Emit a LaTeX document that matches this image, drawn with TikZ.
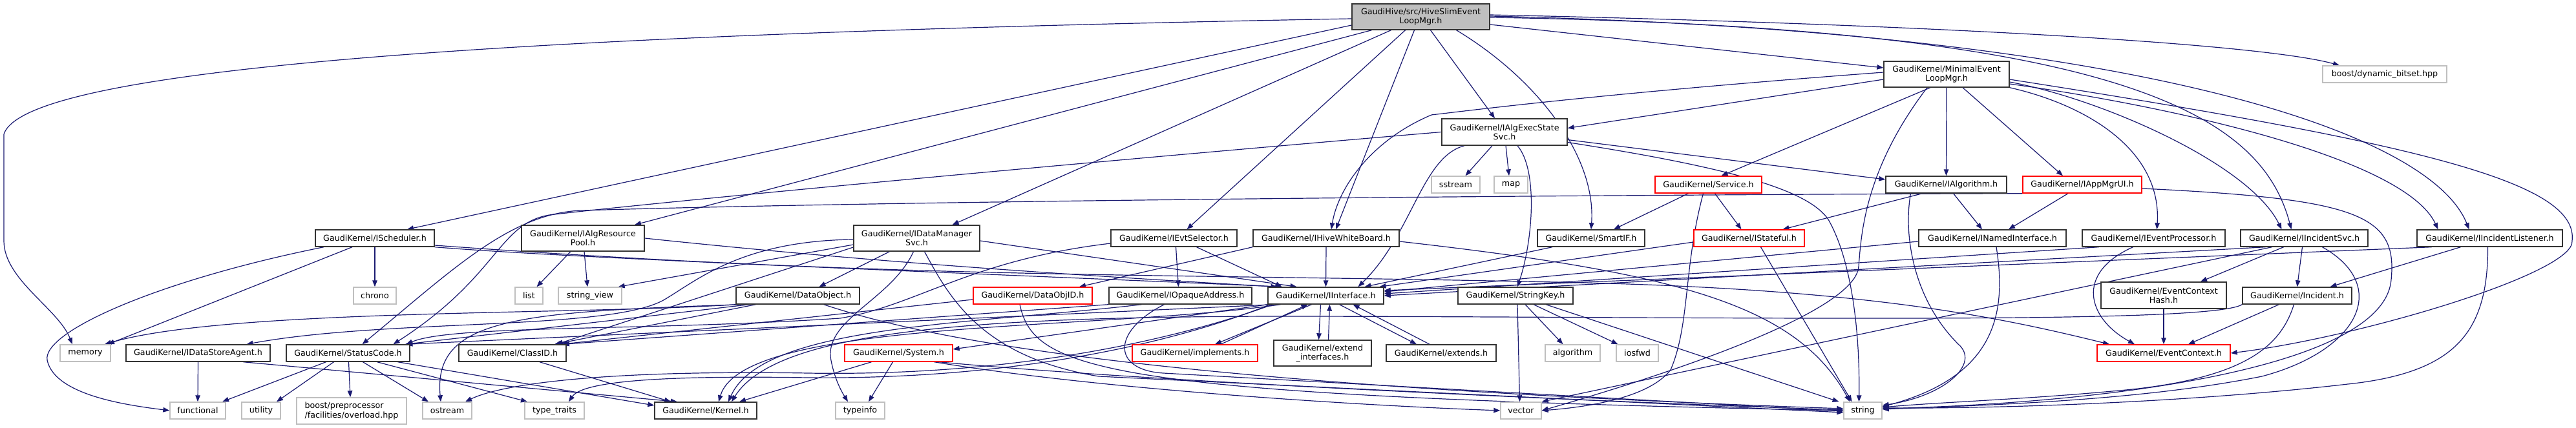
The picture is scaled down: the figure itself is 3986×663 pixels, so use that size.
\documentclass[tikz,border=0pt]{standalone}
\usepackage{fontspec}
\setmainfont{DejaVu Sans}
\usetikzlibrary{arrows.meta,backgrounds}
\definecolor{edgeblue}{HTML}{191970}
\definecolor{extgray}{HTML}{BFBFBF}
\definecolor{truncred}{HTML}{FF0000}
\definecolor{nodeborder}{HTML}{333333}
\newcommand{\nfont}{\fontsize{12.7}{14.4}\selectfont}
\tikzset{
  hdr/.style={draw=nodeborder, line width=1.4pt, fill=white, inner sep=0pt, minimum height=26pt, font=\nfont, align=center},
  sysh/.style={hdr, draw=extgray},
  trunc/.style={hdr, draw=truncred},
  rooth/.style={hdr, fill=extgray, draw=nodeborder},
  dep/.style={draw=edgeblue, line width=1.2pt, -{Triangle[length=10pt,width=7.5pt]}},
}
\begin{document}
\begin{tikzpicture}[x=1pt,y=1pt]
\useasboundingbox (0,0) rectangle (3986,663);
% level 0/1
\node[rooth, minimum width=213pt, minimum height=40pt] (R) at (2198.5,637) {GaudiHive/src/HiveSlimEvent\\LoopMgr.h};
\node[hdr, minimum width=194pt, minimum height=40pt] (MEL) at (3012,548) {GaudiKernel/MinimalEvent\\LoopMgr.h};
\node[sysh, minimum width=192pt] (BDB) at (3690,548) {boost/dynamic\_bitset.hpp};
\node[hdr, minimum width=194pt, minimum height=41pt] (IAES) at (2328,458.5) {GaudiKernel/IAlgExecState\\Svc.h};
% level 2
\node[sysh, minimum width=75pt] (SST) at (2252.5,377) {sstream};
\node[sysh, minimum width=52pt] (MAP) at (2338,377) {map};
\node[trunc, minimum width=165pt] (SVC) at (2643.5,377) {GaudiKernel/Service.h};
\node[hdr, minimum width=187pt] (IALG) at (3011.5,377) {GaudiKernel/IAlgorithm.h};
\node[trunc, minimum width=184pt] (IAPP) at (3222,377) {GaudiKernel/IAppMgrUI.h};
% level 3
\node[hdr, minimum width=184pt] (ISCH) at (580,294) {GaudiKernel/IScheduler.h};
\node[hdr, minimum width=190pt, minimum height=40pt] (IARP) at (902,294) {GaudiKernel/IAlgResource\\Pool.h};
\node[hdr, minimum width=195pt, minimum height=40pt] (IDMS) at (1418.5,294) {GaudiKernel/IDataManager\\Svc.h};
\node[hdr, minimum width=195pt] (IEVS) at (1816.5,294) {GaudiKernel/IEvtSelector.h};
\node[hdr, minimum width=226pt] (IHWB) at (2052,294) {GaudiKernel/IHiveWhiteBoard.h};
\node[hdr, minimum width=166pt] (SIF) at (2462,294) {GaudiKernel/SmartIF.h};
\node[trunc, minimum width=171pt] (ISTF) at (2706.5,294) {GaudiKernel/IStateful.h};
\node[hdr, minimum width=228pt] (INI) at (3083,294) {GaudiKernel/INamedInterface.h};
\node[hdr, minimum width=221pt] (IEP) at (3332.5,294) {GaudiKernel/IEventProcessor.h};
\node[hdr, minimum width=197pt] (IIS) at (3565.5,294) {GaudiKernel/IIncidentSvc.h};
\node[hdr, minimum width=225pt] (IIL) at (3852.5,294) {GaudiKernel/IIncidentListener.h};
% level 4
\node[sysh, minimum width=66pt] (CHR) at (580,205) {chrono};
\node[sysh, minimum width=43pt] (LST) at (818.5,205) {list};
\node[sysh, minimum width=98pt] (SV) at (913,205) {string\_view};
\node[hdr, minimum width=191pt] (DOB) at (1234.5,205) {GaudiKernel/DataObject.h};
\node[trunc, minimum width=184pt] (DOID) at (1598,205) {GaudiKernel/DataObjID.h};
\node[hdr, minimum width=221pt] (IOA) at (1826.5,205) {GaudiKernel/IOpaqueAddress.h};
\node[hdr, minimum width=179pt] (II) at (2051.5,205) {GaudiKernel/IInterface.h};
\node[hdr, minimum width=178pt] (SK) at (2345,205) {GaudiKernel/StringKey.h};
\node[hdr, minimum width=194pt, minimum height=41pt] (ECH) at (3348,205.5) {GaudiKernel/EventContext\\Hash.h};
\node[hdr, minimum width=169pt] (INC) at (3554.5,205) {GaudiKernel/Incident.h};
% level 5
\node[sysh, minimum width=78pt] (MEM) at (132,116) {memory};
\node[hdr, minimum width=223pt] (IDSA) at (306.5,116) {GaudiKernel/IDataStoreAgent.h};
\node[hdr, minimum width=191pt] (SC) at (538.5,116) {GaudiKernel/StatusCode.h};
\node[hdr, minimum width=166pt] (CID) at (793,116) {GaudiKernel/ClassID.h};
\node[trunc, minimum width=167pt] (SYS) at (1390.5,116) {GaudiKernel/System.h};
\node[trunc, minimum width=194pt] (IMP) at (1849,116) {GaudiKernel/implements.h};
\node[hdr, minimum width=151pt, minimum height=40pt] (EXT) at (2046.5,116) {GaudiKernel/extend\\\_interfaces.h};
\node[hdr, minimum width=170pt] (EXTS) at (2230,116) {GaudiKernel/extends.h};
\node[sysh, minimum width=85pt] (ALG) at (2433.5,116) {algorithm};
\node[sysh, minimum width=65pt] (IOS) at (2533.5,116) {iosfwd};
\node[trunc, minimum width=206pt] (EC) at (3348,116) {GaudiKernel/EventContext.h};
% level 6
\node[sysh, minimum width=86pt] (FUN) at (306,27) {functional};
\node[sysh, minimum width=60pt] (UTL) at (404,27) {utility};
\node[sysh, minimum width=170pt, minimum height=41pt, align=left] (BPP) at (544,26.5) {boost/preprocessor\\/facilities/overload.hpp};
\node[sysh, minimum width=76pt] (OST) at (692,27) {ostream};
\node[sysh, minimum width=92pt] (TT) at (858,27) {type\_traits};
\node[hdr, minimum width=158pt] (KER) at (1092,27) {GaudiKernel/Kernel.h};
\node[sysh, minimum width=76pt] (TI) at (1331,27) {typeinfo};
\node[sysh, minimum width=63pt] (VEC) at (2353.5,27) {vector};
\node[sysh, minimum width=59pt] (STR) at (2882.5,27) {string};

\begin{scope}[on background layer]
% root
\draw[dep] ([yshift=-3pt]R.west) .. controls (900,612) and (40,565) .. (6,455) -- (6,290) .. controls (6,230) and (90,185) .. ([xshift=-20pt]MEM.north);
\draw[dep] ([yshift=-13pt]R.west) -- ([xshift=50pt]ISCH.north);
\draw[dep] ([xshift=-76pt]R.south) -- ([xshift=80pt]IARP.north);
\draw[dep] ([xshift=-46pt]R.south) -- ([xshift=55pt]IDMS.north);
\draw[dep] ([xshift=-24pt]R.south) -- ([xshift=20pt]IEVS.north);
\draw[dep] ([xshift=-10pt]R.south) -- ([xshift=15pt]IHWB.north);
\draw[dep] ([xshift=15pt]R.south) -- ([xshift=-15pt]IAES.north);
\draw[dep] ([xshift=55pt]R.south) .. controls (2380,540) and (2470,420) .. (SIF.north);
\draw[dep] ([yshift=-12pt]R.east) -- ([yshift=10pt]MEL.west);
\draw[dep] ([yshift=3pt]R.east) .. controls (3000,625) and (3500,595) .. ([xshift=-70pt]BDB.north);
\draw[dep] ([yshift=1pt]R.east) .. controls (3300,615) and (3760,460) .. ([xshift=-32pt]IIL.north);
\draw[dep] ([yshift=-1pt]R.east) .. controls (3300,620) and (3500,480) .. ([xshift=-20pt]IIS.north);
% MinimalEventLoopMgr
\draw[dep] ([yshift=-8pt]MEL.west) -- ([yshift=6pt]IAES.east);
\draw[dep] ([yshift=3pt]MEL.west) .. controls (2500,520) and (2300,495) .. (2215,485) .. controls (2120,445) and (2070,370) .. ([xshift=8pt]IHWB.north);
\draw[dep] ([xshift=-25pt]MEL.south) -- ([xshift=20pt]SVC.north);
\draw[dep] (MEL.south) -- (IALG.north);
\draw[dep] ([xshift=25pt]MEL.south) -- ([xshift=-30pt]IAPP.north);
\draw[dep] (MEL.south east) .. controls (3230,500) and (3345,430) .. ([xshift=5pt]IEP.north);
\draw[dep] ([yshift=-12pt]MEL.east) .. controls (3250,510) and (3480,410) .. ([xshift=-35pt]IIS.north);
\draw[dep] ([yshift=-15pt]MEL.east) .. controls (3350,500) and (3720,420) .. ([xshift=-80pt]IIL.north);
\draw[dep] ([yshift=-8pt]MEL.east) .. controls (3750,440) and (3990,380) .. (3980,290) .. controls (3985,240) and (3650,140) .. (EC.east);
\draw[dep] ([xshift=-30pt]MEL.south) .. controls (2885,400) and (2880,300) .. (2876,250) .. controls (2870,170) and (2500,60) .. (VEC.east);
% IAlgExecStateSvc
\draw[dep] ([xshift=-19pt]IAES.south) -- ([xshift=15pt]SST.north);
\draw[dep] ([xshift=2pt]IAES.south) -- ([xshift=-3pt]MAP.north);
\draw[dep] ([xshift=20pt]IAES.south) .. controls (2380,400) and (2372,290) .. ([xshift=3pt]SK.north);
\draw[dep] ([xshift=-62pt]IAES.south) .. controls (2200,420) and (2185,300) .. ([xshift=50pt]II.north);
\draw[dep] ([yshift=-12pt]IAES.east) -- ([yshift=8pt]IALG.west);
\draw[dep] ([yshift=-16pt]IAES.east) .. controls (2700,400) and (2800,365) .. (2829,323) .. controls (2865,260) and (2878,150) .. ([xshift=-6pt]STR.north);
\draw[dep] (IAES.west) .. controls (1600,405) and (1000,348) .. (850,330) .. controls (770,316) and (772,235) .. ([xshift=70pt]SC.north);
% Service
\draw[dep] ([xshift=-31pt]SVC.south) -- ([xshift=35pt]SIF.north);
\draw[dep] ([xshift=-8pt]SVC.south) .. controls (2605,250) and (2615,160) .. (2585,90) .. controls (2550,45) and (2450,32) .. (VEC.east);
\draw[dep] ([xshift=10pt]SVC.south) -- ([xshift=-12pt]ISTF.north);
% IAlgorithm
\draw[dep] ([xshift=-37pt]IALG.south) -- ([xshift=52pt]ISTF.north);
\draw[dep] ([xshift=11pt]IALG.south) -- ([xshift=-16pt]INI.north);
\draw[dep] ([xshift=-55pt]IALG.south) .. controls (2945,300) and (2960,200) .. (3030,130) .. controls (3065,100) and (3010,50) .. ([yshift=8pt]STR.east);
% IAppMgrUI
\draw[dep] ([xshift=-22pt]IAPP.south) -- ([xshift=25pt]INI.north);
\draw[dep] ([yshift=-6pt]IAPP.east) .. controls (3650,355) and (3710,330) .. (3700,230) .. controls (3690,100) and (3300,40) .. ([yshift=3pt]STR.east);
\draw[dep] (IAPP.south west) .. controls (2400,361) and (1400,352) .. (900,337) .. controls (790,333) and (700,245) .. ([xshift=22pt]SC.north);
% IScheduler
\draw[dep] (ISCH.south) -- (CHR.north);
\draw[dep] ([xshift=-35pt]ISCH.south) -- ([xshift=35pt]MEM.north);
\draw[dep] ([xshift=-79pt]ISCH.south) .. controls (250,230) and (65,150) .. (73,105) .. controls (85,50) and (200,35) .. (FUN.west);
\draw[dep] (ISCH.south east) .. controls (900,262) and (1500,240) .. ([xshift=-68pt]II.north);
\draw[dep] ([yshift=-11pt]ISCH.east) .. controls (1400,230) and (1800,240) .. (2450,225) .. controls (2900,214) and (3100,170) .. ([xshift=-84pt]EC.north);
% IAlgResourcePool
\draw[dep] ([xshift=-19pt]IARP.south) -- ([xshift=12pt]LST.north);
\draw[dep] ([xshift=2pt]IARP.south) -- ([xshift=-4pt]SV.north);
\draw[dep] (IARP.east) .. controls (1300,262) and (1600,240) .. ([xshift=-75pt]II.north);
% IDataManagerSvc
\draw[dep] ([xshift=-42pt]IDMS.south) -- ([xshift=33pt]DOB.north);
\draw[dep] ([yshift=-10pt]IDMS.west) -- ([xshift=-6pt]SV.north east);
\draw[dep] ([yshift=-4pt]IDMS.east) -- ([xshift=-45pt]II.north);
\draw[dep] ([yshift=-14pt]IDMS.west) -- ([xshift=68pt]CID.north);
\draw[dep] ([yshift=-2pt]IDMS.west) .. controls (1150,290) and (1080,230) .. (1030,200) .. controls (950,150) and (600,170) .. ([xshift=75pt]IDSA.north);
\draw[dep] ([xshift=-5pt]IDMS.south) .. controls (1380,200) and (1280,170) .. (1285,110) .. controls (1290,80) and (1300,60) .. ([xshift=-19pt]TI.north);
\draw[dep] ([xshift=12pt]IDMS.south) .. controls (1470,200) and (1520,110) .. (1700,80) -- ([yshift=-3pt]STR.west);
% IEvtSelector
\draw[dep] ([xshift=3pt]IEVS.south) -- ([xshift=-3pt]IOA.north);
\draw[dep] ([xshift=35pt]IEVS.south) -- ([xshift=-68pt]II.north);
\draw[dep] ([yshift=-8pt]IEVS.west) .. controls (1500,260) and (1420,190) .. (1300,170) .. controls (1000,150) and (700,160) .. ([xshift=90pt]SC.north);
% IHiveWhiteBoard
\draw[dep] (IHWB.south) -- (II.north);
\draw[dep] (IHWB.south west) -- ([xshift=72pt]DOID.north);
\draw[dep] ([yshift=-5pt]IHWB.east) .. controls (2600,240) and (2780,190) .. ([xshift=-20pt]STR.north);
% SmartIF, IStateful, INamedInterface, IEventProcessor
\draw[dep] ([xshift=-60pt]SIF.south) -- ([xshift=60pt]II.north);
\draw[dep] ([yshift=-6pt]ISTF.west) -- ([xshift=83pt]II.north);
\draw[dep] ([xshift=18pt]ISTF.south) -- ([xshift=-17pt]STR.north);
\draw[dep] ([yshift=-5pt]INI.west) -- ([yshift=6pt]II.east);
\draw[dep] ([xshift=6pt]INI.south) .. controls (3105,180) and (3090,80) .. ([yshift=6pt]STR.east);
\draw[dep] ([xshift=-85pt]IEP.south) -- ([yshift=3pt]II.east);
\draw[dep] ([xshift=-32pt]IEP.south) .. controls (3210,240) and (3230,170) .. ([xshift=-45pt]EC.north);
% IIncidentSvc
\draw[dep] ([xshift=-60pt]IIS.south) -- (II.east);
\draw[dep] ([xshift=-50pt]IIS.south) -- (VEC.north east);
\draw[dep] ([xshift=-32pt]IIS.south) -- ([xshift=57pt]ECH.north);
\draw[dep] ([xshift=-3pt]IIS.south) -- (INC.north);
\draw[dep] ([xshift=28pt]IIS.south) .. controls (3700,220) and (3650,120) .. (3500,80) .. controls (3300,40) and (3050,35) .. ([yshift=2pt]STR.east);
% IIncidentListener
\draw[dep] ([xshift=-90pt]IIL.south) -- ([yshift=8pt]II.east);
\draw[dep] ([xshift=-45pt]IIL.south) -- ([xshift=51pt]INC.north);
\draw[dep] ([xshift=-3pt]IIL.south) .. controls (3850,150) and (3800,90) .. (3650,70) .. controls (3400,40) and (3100,30) .. ([yshift=4pt]STR.east);
% DataObject
\draw[dep] ([xshift=-65pt]DOB.south) -- ([xshift=65pt]CID.north);
\draw[dep] ([xshift=-75pt]DOB.south) -- ([xshift=88pt]SC.north);
\draw[dep] (DOB.south west) .. controls (900,175) and (350,185) .. ([xshift=30pt]MEM.north);
\draw[dep] ([xshift=-85pt]DOB.south) .. controls (800,180) and (670,170) .. ([xshift=-10pt]OST.north);
\draw[dep] ([xshift=40pt]DOB.south) .. controls (1400,150) and (1700,70) .. ([yshift=3pt]STR.west);
% DataObjID
\draw[dep] ([yshift=-6pt]DOID.west) -- ([xshift=75pt]CID.north);
\draw[dep] ([xshift=-20pt]DOID.south) .. controls (1600,90) and (1700,50) .. (STR.west);
% IOpaqueAddress
\draw[dep] (IOA.south west) -- ([xshift=78pt]CID.north);
\draw[dep] ([xshift=-25pt]IOA.south) .. controls (1720,150) and (1720,90) .. (1800,85) -- ([yshift=-1pt]STR.west);
\draw[dep] ([xshift=-60pt]IOA.south) .. controls (1500,160) and (1180,160) .. ([xshift=35pt]KER.north);
% IInterface
\draw[dep] ([xshift=-70pt]II.south) .. controls (1700,150) and (1150,170) .. ([xshift=20pt]KER.north);
\draw[dep] ([xshift=-80pt]II.south) -- ([xshift=90pt]SC.north);
\draw[dep] (II.south west) -- ([yshift=6pt]SYS.east);
\draw[dep] ([xshift=-82pt]II.south) .. controls (1800,130) and (1550,80) .. (1250,85) .. controls (950,90) and (780,70) .. ([xshift=28pt]OST.north);
\draw[dep] ([xshift=-86pt]II.south) .. controls (1800,125) and (1550,75) .. (1250,78) .. controls (1000,82) and (900,70) .. ([xshift=22pt]TT.north);
\draw[dep] ([xshift=-22pt]II.south) -- ([xshift=31pt]IMP.north);
\draw[dep] ([xshift=40pt]IMP.north) -- ([xshift=-28pt]II.south);
\draw[dep] ([xshift=-8pt]II.south) -- ([xshift=-6pt]EXT.north);
\draw[dep] ([xshift=9pt]EXT.north) -- ([xshift=6pt]II.south);
\draw[dep] ([xshift=21pt]II.south) -- ([xshift=-38pt]EXTS.north);
\draw[dep] ([xshift=-18pt]EXTS.north) -- ([xshift=42pt]II.south);
% StringKey
\draw[dep] ([xshift=3pt]SK.south) -- ([xshift=-2pt]VEC.north);
\draw[dep] ([xshift=15pt]SK.south) -- ([xshift=-15pt]ALG.north);
\draw[dep] ([xshift=28pt]SK.south) -- ([xshift=-30pt]IOS.north);
\draw[dep] ([xshift=47pt]SK.south) -- ([xshift=-37pt]STR.north);
% System
\draw[dep] ([xshift=-42pt]SYS.south) -- ([xshift=52pt]KER.north);
\draw[dep] ([xshift=-9pt]SYS.south) -- ([xshift=13pt]TI.north);
\draw[dep] ([xshift=55pt]SYS.south) .. controls (1700,60) and (2100,35) .. (VEC.west);
\draw[dep] ([xshift=62pt]SYS.south) .. controls (1800,70) and (2500,40) .. ([yshift=1pt]STR.west);
% IDataStoreAgent, StatusCode, ClassID
\draw[dep] (IDSA.south) -- (FUN.north);
\draw[dep] ([xshift=70pt]IDSA.south) -- ([xshift=-44pt]KER.north);
\draw[dep] ([xshift=-34pt]SC.south) -- ([xshift=38pt]FUN.north);
\draw[dep] ([xshift=-22pt]SC.south) -- ([xshift=24pt]UTL.north);
\draw[dep] ([xshift=1pt]SC.south) -- ([xshift=-2pt]BPP.north);
\draw[dep] ([xshift=23pt]SC.south) -- ([xshift=-29pt]OST.north);
\draw[dep] ([xshift=45pt]SC.south) -- ([xshift=-42pt]TT.north);
\draw[dep] ([xshift=77pt]SC.south) -- ([yshift=8pt]KER.west);
\draw[dep] ([xshift=42pt]CID.south) -- ([xshift=-54pt]KER.north);
% EventContextHash, Incident
\draw[dep] (ECH.south) -- (EC.north);
\draw[dep] ([xshift=-28pt]INC.south) -- ([xshift=38pt]EC.north);
\draw[dep] ([xshift=-5pt]INC.south) .. controls (3530,130) and (3480,80) .. (3300,60) .. controls (3150,45) and (3000,40) .. ([yshift=5pt]STR.east);
\draw[dep] (INC.south west) .. controls (3420,160) and (2700,172) .. (2000,173) .. controls (1500,173) and (1200,150) .. ([xshift=40pt]KER.north);
\end{scope}
\end{tikzpicture}
\end{document}
